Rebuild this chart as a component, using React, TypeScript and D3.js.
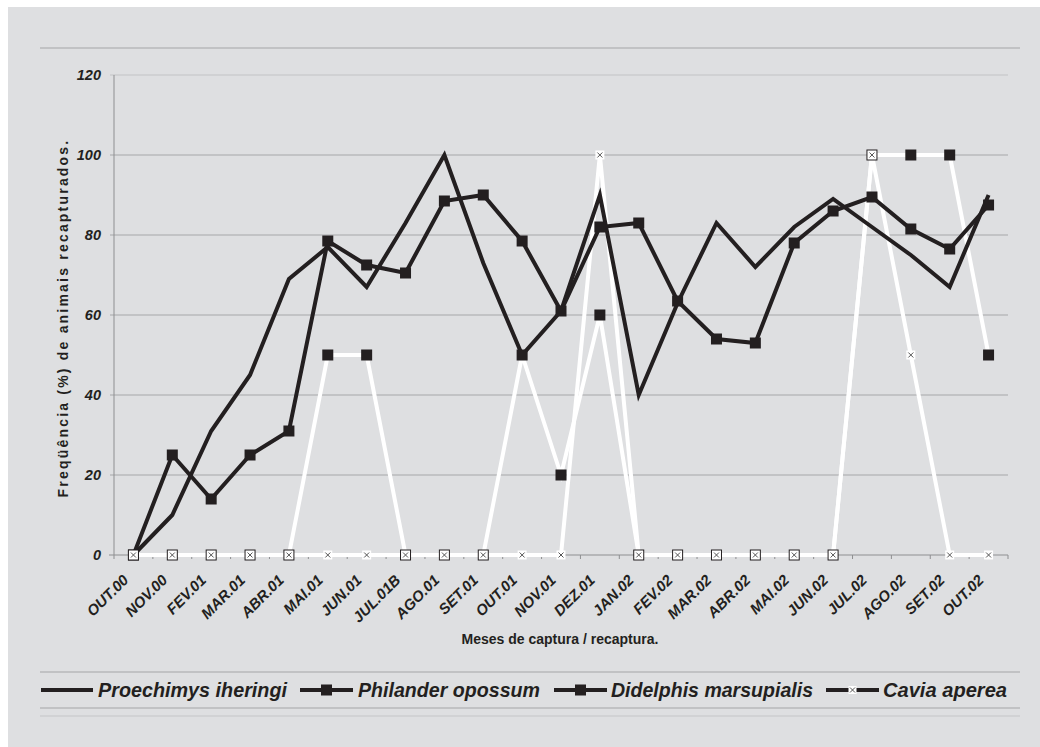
import React from "react";
import * as d3 from "d3";

const categories = ["OUT.00","NOV.00","FEV.01","MAR.01","ABR.01","MAI.01","JUN.01","JUL.01B","AGO.01","SET.01","OUT.01","NOV.01","DEZ.01","JAN.02","FEV.02","MAR.02","ABR.02","MAI.02","JUN.02","JUL.02","AGO.02","SET.02","OUT.02"];
const proechimys = [0,10,31,45,69,77,67,83,100,73,50,61,90,40,63,83,72,82,89,82,75,67,90];
const philander = [0,25,14,25,31,78.5,72.5,70.5,88.5,90,78.5,61,82,83,63.5,54,53,78,86,89.5,81.5,76.5,87.5];
const didelphis = [0,0,0,0,0,50,50,0,0,0,50,20,60,0,0,0,0,0,0,100,100,100,50];
const cavia = [0,0,0,0,0,0,0,0,0,0,0,0,100,0,0,0,0,0,0,100,50,0,0];
const yTicks = [0,20,40,60,80,100,120];
const legendNames = ["Proechimys iheringi","Philander opossum","Didelphis marsupialis","Cavia aperea"];

const BLACK = "#231f20";
const BG = "#dedfe1";
const FONT = "'Liberation Sans', Arial, sans-serif";

export default function App() {
  const x = d3.scaleBand<string>().domain(categories).range([114, 1008]);
  const y = d3.scaleLinear().domain([0, 120]).range([555, 75]);
  const cx = (c: string) => (x(c) as number) + x.bandwidth() / 2;
  const line = d3.line<number>().x((_, i) => cx(categories[i])).y((v) => y(v));

  const xMarker = (px: number, py: number, k: string, s = 9) => (
    <g key={k}>
      <rect x={px - s / 2} y={py - s / 2} width={s} height={s} fill="#fff" />
      <path d={`M${px - 2.5},${py - 2.5}L${px + 2.5},${py + 2.5}M${px + 2.5},${py - 2.5}L${px - 2.5},${py + 2.5}`} stroke="#555" strokeWidth={1} />
    </g>
  );
  const sq = (px: number, py: number, k: string, s = 11) => (
    <rect key={k} x={px - s / 2} y={py - s / 2} width={s} height={s} fill={BLACK} />
  );

  const boundaries = d3.range(categories.length + 1).map((i) => 114 + i * x.bandwidth());

  const legY = 690;
  const legItems = [
    { x1: 41, x2: 93, tx: 98, tw: 189, marker: "none" },
    { x1: 300, x2: 353, tx: 358, tw: 182, marker: "sq" },
    { x1: 554, x2: 607, tx: 611, tw: 202, marker: "sq" },
    { x1: 826, x2: 879, tx: 883, tw: 124, marker: "x" },
  ];

  return (
    <svg width={1040} height={747} style={{ position: "absolute", left: 0, top: 0 }} fontFamily={FONT}>
      <rect x={0} y={0} width={1040} height={747} fill="#fff" />
      <rect x={8} y={7} width={1032} height={740} fill={BG} />
      <line x1={40} x2={1020} y1={48} y2={48} stroke="#b7b8ba" strokeWidth={1.5} />

      {yTicks.filter((t) => t > 0).map((t) => (
        <line key={"g" + t} x1={110} x2={1008} y1={y(t)} y2={y(t)} stroke={t === 120 ? "#c2c3c5" : "#a6a7a9"} strokeWidth={1} />
      ))}
      <line x1={114} x2={114} y1={75} y2={555} stroke="#8e8f91" strokeWidth={1} />
      <line x1={109} x2={1008} y1={555} y2={555} stroke="#8e8f91" strokeWidth={1} />
      {boundaries.map((b, i) => (
        <line key={"t" + i} x1={b} x2={b} y1={555} y2={559} stroke="#8e8f91" strokeWidth={1} />
      ))}

      {yTicks.map((t) => (
        <text key={"yl" + t} x={101} y={y(t) + 5} textAnchor="end" fontSize={14.5} fontWeight="bold" fontStyle="italic" fill={BLACK}>{t}</text>
      ))}
      <text transform={`translate(68,318) rotate(-90)`} textAnchor="middle" fontSize={14} fontWeight="bold" letterSpacing={2.2} fill={BLACK}>Freqüência (%) de animais recapturados.</text>

      {categories.map((c) => (
        <text key={"xl" + c} transform={`translate(${cx(c) - 4},${581}) rotate(-45)`} textAnchor="end" fontSize={15} fontWeight="bold" fontStyle="italic" fill={BLACK}>{c}</text>
      ))}
      <text x={560} y={644} textAnchor="middle" fontSize={14} fontWeight="bold" fill={BLACK}>Meses de captura / recaptura.</text>

      <path d={line(didelphis) as string} fill="none" stroke="#fff" strokeWidth={4} strokeLinejoin="miter" />
      <path d={line(cavia) as string} fill="none" stroke="#fff" strokeWidth={4} strokeLinejoin="miter" />
      <path d={line(proechimys) as string} fill="none" stroke={BLACK} strokeWidth={4} strokeLinejoin="miter" />
      <path d={line(philander) as string} fill="none" stroke={BLACK} strokeWidth={4} strokeLinejoin="miter" />
      {philander.map((v, i) => sq(cx(categories[i]), y(v), "ps" + i))}
      {didelphis.map((v, i) => sq(cx(categories[i]), y(v), "ds" + i))}
      {cavia.map((v, i) => xMarker(cx(categories[i]), y(v), "cx" + i))}

      <line x1={40} x2={1020} y1={672} y2={672} stroke="#b7b8ba" strokeWidth={1.5} />
      <line x1={40} x2={1020} y1={708} y2={708} stroke="#b7b8ba" strokeWidth={1.5} />
      <line x1={40} x2={1020} y1={716} y2={716} stroke="#c4c5c7" strokeWidth={1.2} />
      {legItems.map((it, i) => (
        <g key={"leg" + i}>
          <line x1={it.x1} x2={it.x2} y1={legY} y2={legY} stroke={BLACK} strokeWidth={4} />
          {it.marker === "sq" && sq((it.x1 + it.x2) / 2, legY, "lm" + i)}
          {it.marker === "x" && xMarker((it.x1 + it.x2) / 2, legY, "lx" + i, 8)}
          <text x={it.tx} y={legY + 7} fontSize={20} fontWeight="bold" fontStyle="italic" fill={BLACK} textLength={it.tw} lengthAdjust="spacingAndGlyphs">{legendNames[i]}</text>
        </g>
      ))}
    </svg>
  );
}
